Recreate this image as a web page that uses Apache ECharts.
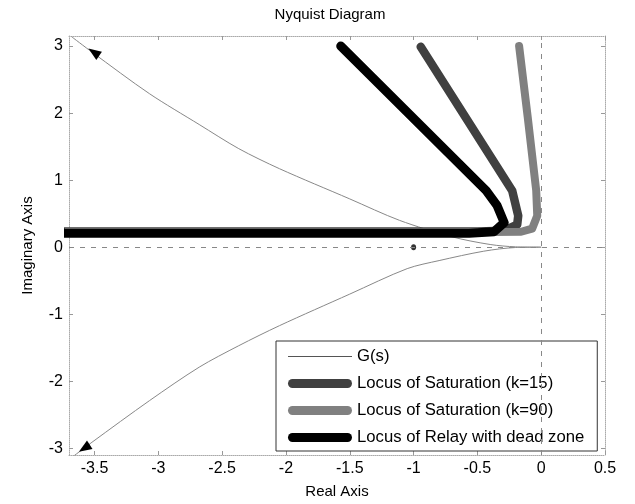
<!DOCTYPE html>
<html>
<head>
<meta charset="utf-8">
<script src="https://cdn.jsdelivr.net/npm/echarts@6/dist/echarts.min.js"></script>
<style>
  html, body { margin: 0; padding: 0; background: #fff; }
  #chart { width: 635px; height: 504px; }
</style>
</head>
<body>
<div id="chart"></div>
<script>
// values (real, imaginary)
const gUpper = [[0, 0], [-0.2, 0.005], [-0.4, 0.04], [-0.7, 0.155], [-1.11, 0.4], [-1.5, 0.72],
  [-2.05, 1.17], [-2.37, 1.47], [-2.68, 1.83], [-3.07, 2.29], [-3.52, 2.91], [-3.68, 3.14]];
const gLower = [[0, 0], [-0.2, -0.005], [-0.45, -0.06], [-0.8, -0.2], [-1.05, -0.32], [-1.5, -0.7],
  [-2.05, -1.17], [-2.37, -1.47], [-2.68, -1.79], [-3.07, -2.29], [-3.52, -2.91], [-3.68, -3.14]];
const satK15 = [[-0.944, 2.99], [-0.227, 0.843], [-0.18, 0.47], [-0.188, 0.336], [-0.29, 0.246],
  [-0.5, 0.235], [-3.8, 0.235]];
const satK90 = [[-0.173, 3.0], [-0.105, 1.93], [-0.039, 0.843], [-0.031, 0.47], [-0.071, 0.276],
  [-0.157, 0.23], [-0.4, 0.228], [-3.8, 0.228]];
const relayDz = [[-1.571, 3.0], [-0.431, 0.843], [-0.345, 0.619], [-0.29, 0.366], [-0.369, 0.231],
  [-0.565, 0.209], [-3.8, 0.209]];
const criticalPoint = [[-1, 0]];
// short pieces along G(s) that carry the direction arrows
const arrowSegs = [[[-3.47, 2.86], [-3.506, 2.907]], [[-3.54, -2.95], [-3.58, -3.0]]];
const xTicks = [-3.5, -3, -2.5, -2, -1.5, -1, -0.5, 0, 0.5];
const yTicks = [-3, -2, -1, 0, 1, 2, 3];
const seriesNames = ['G(s)', 'Locus of Saturation (k=15)', 'Locus of Saturation (k=90)', 'Locus of Relay with dead zone'];

const font = 'Liberation Sans, Arial, sans-serif';
const capsule = 'path://M4.5,0L59.5,0A4.5,4.5 0 0 1 59.5,9L4.5,9A4.5,4.5 0 0 1 4.5,0Z';
const thin = 'path://M0,0L64,0L64,1L0,1Z';

const chart = echarts.init(document.getElementById('chart'));

function axisBox(pos, ticks, min, max, show) {
  return {
    type: 'value',
    position: pos,
    min: min,
    max: max,
    splitLine: { show: false },
    axisLine: { show: true, onZero: false, lineStyle: { color: '#aaa', type: 'dotted', width: 1 } },
    axisTick: { show: true, inside: true, length: 4, customValues: ticks, lineStyle: { color: '#999' } },
    axisLabel: { show: show, customValues: ticks, color: '#000', fontSize: 16, fontFamily: font, margin: 6 }
  };
}

const xMain = axisBox('bottom', xTicks, -3.7, 0.5, true);
xMain.name = 'Real Axis';
xMain.nameLocation = 'middle';
xMain.nameGap = 29;
xMain.nameTextStyle = { color: '#000', fontSize: 15, fontFamily: font };
const yMain = axisBox('left', yTicks, -3.1, 3.15, true);
yMain.name = 'Imaginary Axis';
yMain.nameLocation = 'middle';
yMain.nameGap = 34;
yMain.nameTextStyle = { color: '#000', fontSize: 15, fontFamily: font };

function locus(name, data, color, width) {
  return {
    name: name,
    type: 'line',
    data: data,
    symbol: 'none',
    lineStyle: { color: color, width: width, cap: 'round', join: 'round' },
    itemStyle: { color: color }
  };
}

const options = {
  animation: false,
  title: {
    text: 'Nyquist Diagram',
    left: 330,
    textAlign: 'center',
    top: 7,
    padding: 0,
    textStyle: { color: '#000', fontSize: 15, fontWeight: 'normal', fontFamily: font }
  },
  grid: { left: 69, right: 30, top: 36, bottom: 49 },
  xAxis: [xMain, axisBox('top', xTicks, -3.7, 0.5, false)],
  yAxis: [yMain, axisBox('right', yTicks, -3.1, 3.15, false)],
  legend: {
    orient: 'vertical',
    left: 276,
    top: 341,
    padding: [7, 13, 5, 12],
    itemGap: 10,
    itemWidth: 64,
    itemHeight: 9,
    selectedMode: false,
    backgroundColor: '#fff',
    borderColor: '#333',
    borderWidth: 1,
    textStyle: { color: '#000', fontSize: 16.7, lineHeight: 16, fontFamily: font },
    data: [
      { name: seriesNames[0], icon: thin, itemStyle: { color: '#555' } },
      { name: seriesNames[1], icon: capsule, itemStyle: { color: '#404040' } },
      { name: seriesNames[2], icon: capsule, itemStyle: { color: '#808080' } },
      { name: seriesNames[3], icon: capsule, itemStyle: { color: '#000' } }
    ]
  },
  series: [
    {
      type: 'line',
      data: [],
      silent: true,
      markLine: {
        symbol: 'none',
        silent: true,
        label: { show: false },
        lineStyle: { color: '#888', type: [5, 6], width: 1 },
        data: [{ xAxis: 0 }, { yAxis: 0 }]
      }
    },
    {
      name: seriesNames[0],
      type: 'line',
      data: gUpper,
      symbol: 'none',
      smooth: 0.3,
      lineStyle: { color: '#888', width: 1 },
      markLine: {
        symbol: ['none', 'triangle'],
        symbolSize: [10, 13],
        silent: true,
        label: { show: false },
        lineStyle: { color: '#000', width: 1, type: 'solid' },
        data: arrowSegs.map(s => [{ coord: s[0] }, { coord: s[1] }])
      }
    },
    {
      name: seriesNames[0],
      type: 'line',
      data: gLower,
      symbol: 'none',
      smooth: 0.3,
      lineStyle: { color: '#888', width: 1 }
    },
    locus(seriesNames[1], satK15, '#404040', 8.5),
    locus(seriesNames[2], satK90, '#808080', 8),
    locus(seriesNames[3], relayDz, '#000', 9),
    {
      type: 'scatter',
      data: criticalPoint,
      symbol: 'circle',
      symbolSize: [5, 6],
      itemStyle: { color: '#000' }
    }
  ]
};

chart.setOption(options);
</script>
</body>
</html>
